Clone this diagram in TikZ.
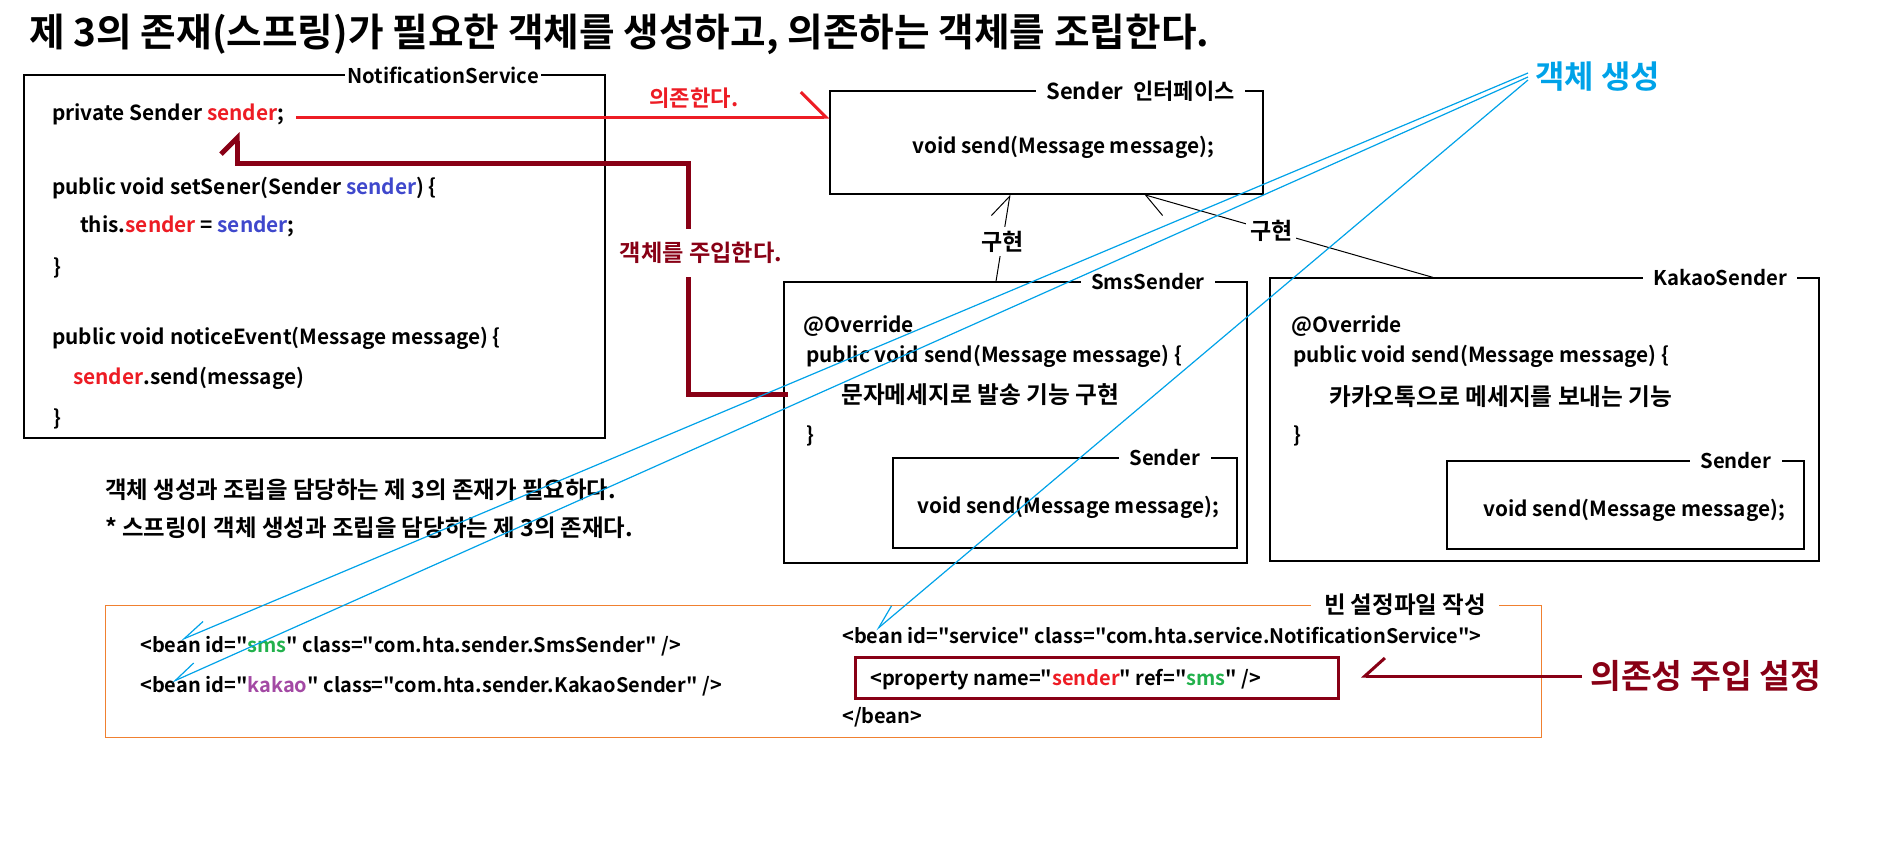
\documentclass[tikz,border=0pt]{standalone}
\usepackage{fontspec}
\setmainfont{Noto Sans CJK KR}[BoldFont={Noto Sans CJK KR Bold}, Ligatures=TeXOff]
\usetikzlibrary{arrows.meta,calc}
\definecolor{depred}{RGB}{237,28,36}
\definecolor{injred}{RGB}{136,0,21}
\definecolor{argblue}{RGB}{63,72,204}
\definecolor{genblue}{RGB}{0,162,232}
\definecolor{idgreen}{RGB}{34,177,76}
\definecolor{idpurple}{RGB}{163,73,164}
\definecolor{beanorange}{RGB}{240,128,48}
\newcommand{\redtxt}[1]{\textcolor{depred}{#1}}
\newcommand{\bluetxt}[1]{\textcolor{argblue}{#1}}
\newcommand{\greentxt}[1]{\textcolor{idgreen}{#1}}
\newcommand{\purpletxt}[1]{\textcolor{idpurple}{#1}}

\begin{document}
\begin{tikzpicture}[x=1pt, y=-1pt,
    box/.style={rectangle, draw=black, line width=1.2pt, inner sep=0pt},
    boxtitle/.style={fill=white, inner xsep=10pt, inner ysep=2pt, font=\fontsize{20.3}{24}\selectfont\bfseries},
    code/.style={anchor=west, inner sep=0pt, text height=16pt, text depth=5pt, font=\fontsize{20.8}{25}\selectfont\bfseries},
    bean/.style={code, font=\fontsize{20}{24}\selectfont\bfseries},
    krcode/.style={code, font=\fontsize{23.7}{28}\selectfont\bfseries},
    note/.style={anchor=west, inner sep=0pt, text height=16pt, text depth=5pt, font=\fontsize{23.4}{28}\selectfont\bfseries},
    implabel/.style={fill=white, inner sep=4pt, font=\fontsize{23}{26}\selectfont\bfseries},
    implarrow/.style={draw=black, line width=1pt, -{Straight Barb[harpoon, length=22pt, width=30pt]}},
    genarrow/.style={draw=genblue, line width=1.2pt, -{Straight Barb[harpoon, swap, length=24pt, width=17pt]}}
]
\useasboundingbox (0,0) rectangle (1898,859);

% Title
\node[anchor=west, inner sep=0pt, font=\fontsize{38.7}{42}\selectfont\bfseries] (title) at (29,34)
     {제 3의 존재(스프링)가 필요한 객체를 생성하고, 의존하는 객체를 조립한다.};

% NotificationService
\node[box, minimum width=581pt, minimum height=363pt] (notif) at (314.5,256.5) {};
\node[boxtitle, inner xsep=2pt] (notiftitle) at (443,75) {NotificationService};
\node[code] (field) at (52,115) {private Sender \redtxt{sender};};
\node[code] (setter) at (52,189) {public void setSener(Sender \bluetxt{sender}) \{};
\node[code] (assign) at (80,227) {this.\redtxt{sender} = \bluetxt{sender};};
\node[code] (setend) at (53,269) {\}};
\node[code] (notice) at (52,339) {public void noticeEvent(Message message) \{};
\node[code] (call) at (73,379) {\redtxt{sender}.send(message)};
\node[code] (noticeend) at (53,420) {\}};

% Sender interface
\node[box, minimum width=433pt, minimum height=103pt] (senderif) at (1046.5,142.5) {};
\node[boxtitle, font=\fontsize{22}{26}\selectfont\bfseries] (senderiftitle) at (1140.5,91) {Sender~~인터페이스};
\node[code] (ifmethod) at (912,148) {void send(Message message);};

% SmsSender
\node[box, minimum width=463pt, minimum height=281pt] (smsbox) at (1015.5,422.5) {};
\node[boxtitle] (smstitle) at (1148,282) {SmsSender};
\node[code] (smsover) at (803,327) {@Override};
\node[code] (smssend) at (806,357) {public void send(Message message) \{};
\node[krcode] (smsbody) at (841,398) {문자메세지로 발송 기능 구현};
\node[code] (smsend) at (806,437) {\}};
\node[box, minimum width=344pt, minimum height=90pt] (smsif) at (1065,503) {};
\node[boxtitle] (smsiftitle) at (1165,458) {Sender};
\node[code] (smsifmethod) at (917,508) {void send(Message message);};

% KakaoSender
\node[box, minimum width=549pt, minimum height=283pt] (kakaobox) at (1544.5,419.5) {};
\node[boxtitle] (kakaotitle) at (1720,278) {KakaoSender};
\node[code] (kakaoover) at (1291,327) {@Override};
\node[code] (kakaosend) at (1293,357) {public void send(Message message) \{};
\node[krcode] (kakaobody) at (1329,400) {카카오톡으로 메세지를 보내는 기능};
\node[code] (kakaoend) at (1293,437) {\}};
\node[box, minimum width=357pt, minimum height=88pt] (kakaoif) at (1625.5,505) {};
\node[boxtitle] (kakaoiftitle) at (1736,461) {Sender};
\node[code] (kakaoifmethod) at (1483,511) {void send(Message message);};

% Notes
\node[note] (need) at (105,493) {객체 생성과 조립을 담당하는 제 3의 존재가 필요하다.};
\node[note] (spring) at (105,531) {* 스프링이 객체 생성과 조립을 담당하는 제 3의 존재다.};

% Bean configuration file
\node[box, draw=beanorange, line width=1pt, minimum width=1436pt, minimum height=132pt] (beans) at (823,671) {};
\node[boxtitle, inner xsep=13pt, font=\fontsize{23.5}{27}\selectfont\bfseries] (beanstitle) at (1405,605) {빈 설정파일 작성};
\node[bean] (beansms) at (140,647) {<bean id="\greentxt{sms}" class="com.hta.sender.SmsSender" />};
\node[bean] (beankakao) at (140,687) {<bean id="\purpletxt{kakao}" class="com.hta.sender.KakaoSender" />};
\node[bean] (beanservice) at (842,638) {<bean id="service" class="com.hta.service.NotificationService">};
\node[box, draw=injred, line width=3pt, minimum width=483pt, minimum height=41pt] (propbox) at (1096.5,677.5) {};
\node[bean] (property) at (870,680) {<property name="\redtxt{sender}" ref="\greentxt{sms}" />};
\node[bean] (beanend) at (842,718) {</bean>};

% Side labels
\node[anchor=west, inner sep=0pt, font=\fontsize{31.9}{35}\selectfont\bfseries, text=genblue] (gen) at (1535,77) {객체 생성};
\node[anchor=west, inner sep=0pt, font=\fontsize{33.5}{37}\selectfont\bfseries, text=injred] (diset) at (1590,676) {의존성 주입 설정};

% Dependency
\coordinate (depstart) at (296,117);
\draw[depred, line width=3pt, -{Straight Barb[harpoon, length=25pt, width=50pt]}] (depstart) -- (depstart -| senderif.west);
\node[inner sep=0pt, font=\fontsize{22.2}{25}\selectfont\bfseries, text=depred] (dependlabel) at (694,98) {의존한다.};

% Injection
\coordinate (injstart) at (788,394);
\coordinate (injtip) at (237,132);
\draw[injred, line width=5pt, -{Straight Barb[harpoon, length=16pt, width=32pt]}] (injstart) -| (688,163) -| (injtip);
\node[fill=white, inner xsep=3pt, inner ysep=13pt, font=\fontsize{23.2}{26}\selectfont\bfseries, text=injred] (injlabel) at (701,253) {객체를 주입한다.};

% Implementation
\draw[implarrow] ([xshift=-19.5pt]smsbox.north) -- ([xshift=-36.5pt]senderif.south)
    node[implabel, pos=0.46] (impl1) {구현};
\draw[implarrow] ([xshift=-111.5pt]kakaobox.north) -- ([xshift=97.5pt]senderif.south)
    node[implabel, pos=0.56] (impl2) {구현};

% Property injection
\coordinate (ditip) at (1361,676);
\draw[injred, line width=3pt, -{Straight Barb[harpoon, swap, length=20pt, width=36pt]}] ([xshift=-8pt]diset.west) -- (ditip);

% Object creation
\coordinate (smstip) at (181,640);
\coordinate (kakaotip) at (172,682);
\coordinate (servicetip) at (876,630);
\draw[genarrow] ([shift={(-7,-4)}]gen.west) -- (smstip);
\draw[genarrow] ([shift={(-7,0)}]gen.west) -- (kakaotip);
\draw[genarrow] ([shift={(-7,3)}]gen.west) -- (servicetip);

\end{tikzpicture}
\end{document}
